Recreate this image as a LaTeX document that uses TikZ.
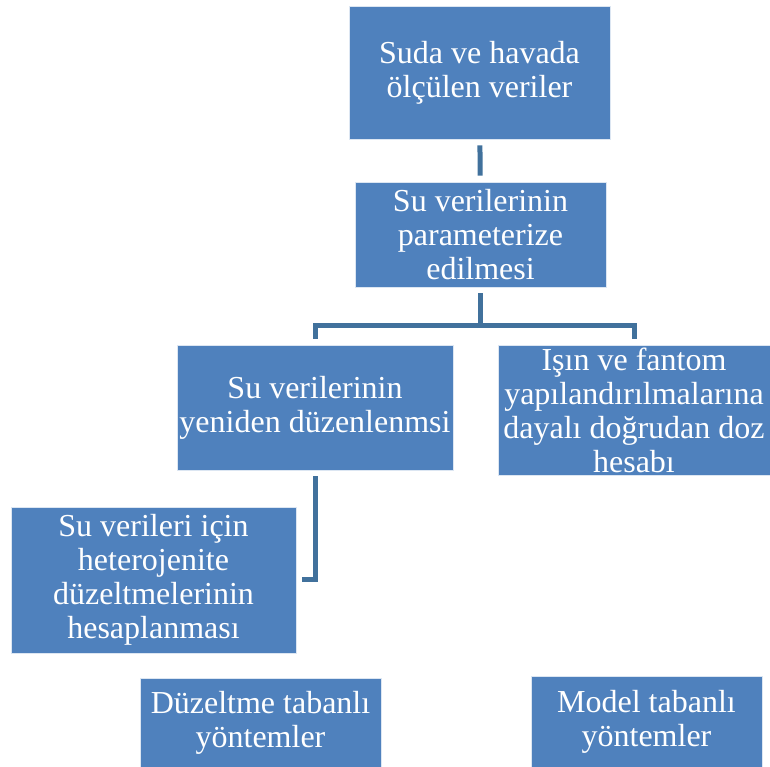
\documentclass[tikz,border=0pt]{standalone}
\usepackage{fontspec}
\setmainfont{Liberation Serif}
\usepackage{xcolor}
\usepackage{tikz}
\usetikzlibrary{positioning,calc}
\definecolor{kutumavi}{HTML}{4F81BD}
\definecolor{bagmavi}{HTML}{41719C}
\definecolor{kenar}{HTML}{DCE6F2}

\begin{document}
\begin{tikzpicture}[x=1pt,y=1pt,every node/.style={font=\fontsize{32}{34}\selectfont,text=white,align=center},
  kutu/.style={draw=kenar,line width=0.8pt,fill=kutumavi,inner sep=0pt},
  bag/.style={draw=bagmavi,line width=5pt,shorten <=6pt,shorten >=6pt}]
\useasboundingbox (0,0) rectangle (770,767);
\node[kutu,minimum width=261pt,minimum height=133pt] (olcum) at (479.5,694.5) {Suda ve havada\\ölçülen veriler};
\node[kutu,minimum width=251pt,minimum height=105pt] (param) at (480.5,532.5) {Su verilerinin\\parameterize\\edilmesi};
\node[kutu,minimum width=276pt,minimum height=125pt] (duzen) at (315,359.5) {Su verilerinin\\yeniden düzenlenmsi};
\node[kutu,minimum width=272pt,minimum height=130pt] (dogrudan) at (634,357) {Işın ve fantom\\yapılandırılmalarına\\dayalı doğrudan doz\\hesabı};
\node[kutu,minimum width=285pt,minimum height=146pt] (hetero) at (153.5,187) {Su verileri için\\heterojenite\\düzeltmelerinin\\hesaplanması};
\node[kutu,minimum width=241pt,minimum height=89pt] (duzyontem) at (260.5,44.5) {Düzeltme tabanlı\\yöntemler};
\node[kutu,minimum width=231pt,minimum height=91pt] (modyontem) at (646.5,45.5) {Model tabanlı\\yöntemler};
\coordinate (catal) at (480.5,441);
% baglantilar
\draw[bag] (olcum) -- (param);
\draw[bag,shorten >=0pt] (param.south) -- (catal);
\draw[bag] (duzen.north) |- (catal) -| (dogrudan.north);
\draw[bag] (duzen.south) |- (hetero.east);
\end{tikzpicture}
\end{document}
